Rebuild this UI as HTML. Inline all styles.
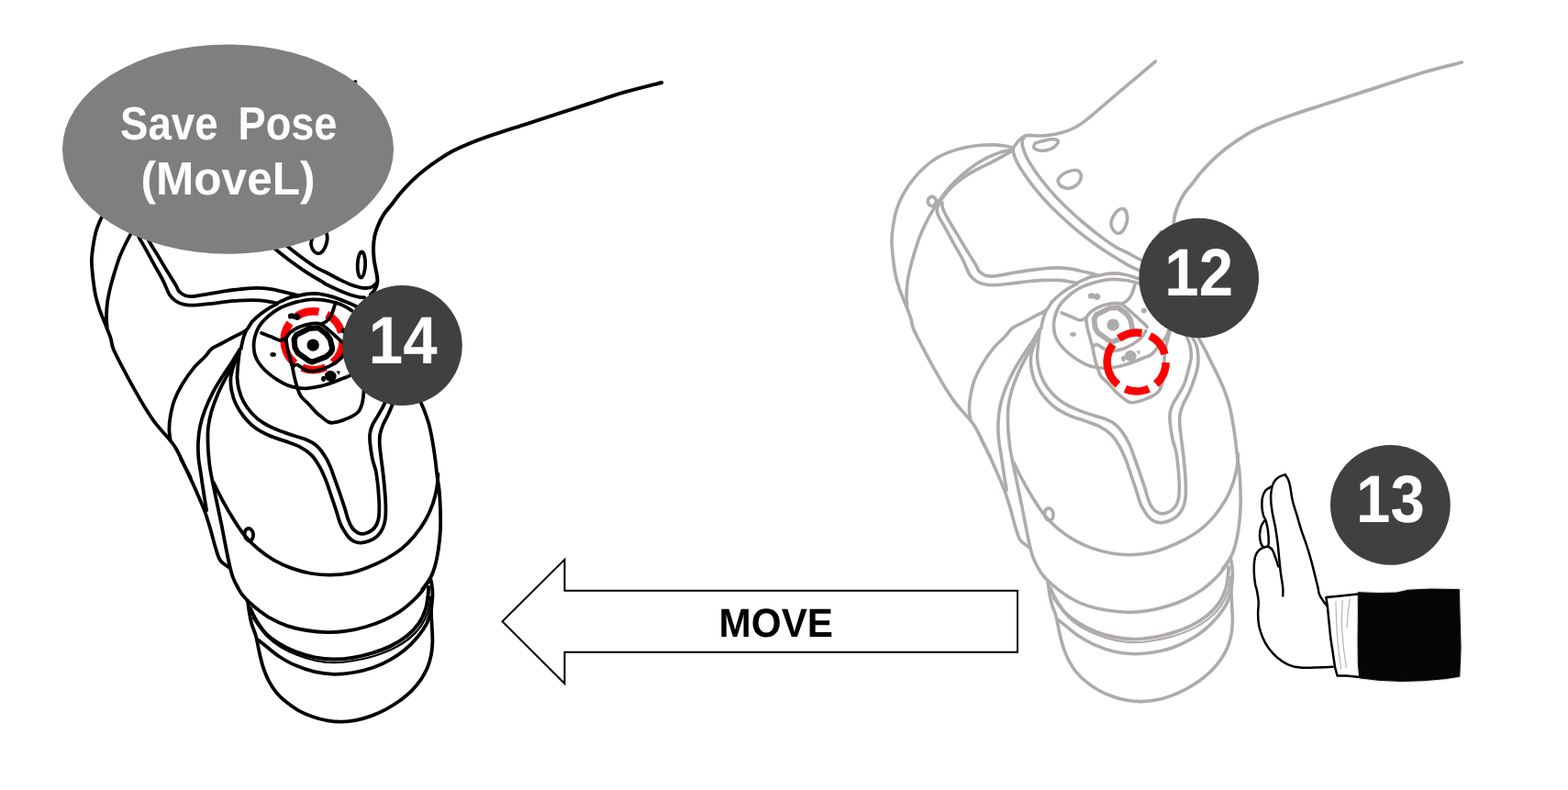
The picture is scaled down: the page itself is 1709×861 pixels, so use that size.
<!DOCTYPE html>
<html lang="en">
<head>
<meta charset="utf-8">
<title>Save Pose (MoveL)</title>
<style>
  html, body { margin: 0; padding: 0; background: #ffffff; }
  body { width: 1709px; height: 861px; overflow: hidden; position: relative; font-family: "Liberation Sans", sans-serif; }
  svg { position: absolute; left: 0; top: 0; display: block; will-change: opacity; }
  .robot path, .robot ellipse, .robot circle { fill: none; stroke-linecap: round; stroke-linejoin: round; }
  .robot path, .robot ellipse, .robot circle { stroke-width: var(--w); }
  .robot .thick { stroke-width: calc(var(--w) * 1.05); }
  .robot .xthick { stroke-width: calc(var(--w) * 1.6); }
  .robot .med { stroke-width: calc(var(--w) * 1.0); }
  .robot .thin { stroke-width: calc(var(--w) * 0.6); }
  .robot .fill { fill: currentColor; stroke: none; }
  text { font-family: "Liberation Sans", sans-serif; font-weight: bold; text-rendering: geometricPrecision; -webkit-font-smoothing: antialiased; }
</style>
</head>
<body>
<svg width="1709" height="861" viewBox="0 0 1709 861">
  <defs>
    <g id="robot" class="robot">
      <!-- ROBOT-BEGIN -->
      <path d="M387.3 89.0C381.3 94.1 362.3 110.1 351.3 119.4C340.3 128.7 328.2 139.1 321.5 144.8C314.7 150.6 314.7 150.8 310.9 153.6C307.1 156.4 303.0 159.3 298.6 161.5C294.3 163.7 289.3 165.5 284.6 166.8C279.9 168.1 274.7 168.9 270.6 169.4C266.5 170.0 263.2 170.0 260.0 170.0C256.8 170.0 253.7 169.4 251.3 169.4C248.8 169.5 247.0 169.6 245.1 170.3C243.2 171.0 241.6 172.2 239.8 173.8C238.1 175.4 235.9 178.2 234.6 180.0C233.3 181.7 232.4 183.6 231.9 184.3"/>
      <path d="M721.2 90.0C714.3 91.8 693.0 97.0 680.0 100.7C667.0 104.5 655.3 108.6 643.3 112.5C631.3 116.3 619.9 120.1 608.2 123.9C596.5 127.7 584.8 131.5 573.1 135.3C561.4 139.1 548.2 143.2 538.0 146.7C527.7 150.2 519.0 153.4 511.7 156.4C504.3 159.3 499.7 161.3 494.1 164.3C488.5 167.2 483.6 170.4 478.3 173.9C473.0 177.4 467.5 181.4 462.5 185.3C457.5 189.3 452.8 193.4 448.5 197.6C444.1 201.9 439.7 206.7 436.2 210.8C432.7 214.9 430.4 218.3 427.4 222.2C424.4 226.0 420.7 229.8 418.1 233.9C415.5 238.0 413.3 242.7 411.7 246.8C410.0 250.9 408.9 254.6 408.1 258.5C407.4 262.4 407.1 266.3 407.0 270.2C406.9 274.1 407.3 278.8 407.6 281.9C407.8 285.0 408.1 286.0 408.6 288.7C409.1 291.4 410.0 295.3 410.5 298.1C410.9 300.9 411.4 303.4 411.4 305.6C411.4 307.8 411.1 309.3 410.5 311.2C409.8 313.1 408.8 315.2 407.7 316.8C406.6 318.4 404.5 320.3 403.9 321.0" class="thick"/>
      <path d="M232.3 182.9C232.4 184.0 232.0 186.7 232.8 189.6C233.6 192.4 235.0 196.0 237.2 200.1C239.4 204.2 242.8 209.4 246.0 214.1C249.2 218.8 252.7 223.5 256.5 228.2C260.3 232.9 264.4 237.5 268.8 242.2C273.2 246.9 277.9 251.6 282.9 256.3C287.8 260.9 293.1 265.6 298.6 270.3C304.2 275.0 310.4 280.0 316.2 284.3C322.1 288.7 327.9 292.8 333.8 296.6C339.6 300.4 347.6 304.9 351.3 307.2C355.0 309.4 353.0 308.7 356.2 310.3C359.3 311.9 365.8 314.9 370.2 316.8C374.6 318.7 378.8 320.3 382.4 321.5C386.0 322.7 389.3 323.4 391.7 323.8C394.2 324.3 396.4 324.2 397.4 324.3" class="med"/>
      <path d="M245.1 170.3C244.6 171.2 242.4 173.2 242.1 175.6C241.8 177.9 242.4 181.1 243.4 184.3C244.3 187.5 245.5 190.7 247.7 194.8C249.9 198.9 253.3 204.2 256.5 208.9C259.7 213.5 263.2 218.2 267.1 222.9C270.9 227.6 275.0 232.3 279.3 237.0C283.7 241.6 288.4 246.3 293.4 251.0C298.4 255.7 303.6 260.4 309.2 265.0C314.7 269.7 320.9 274.7 326.7 279.1C332.6 283.5 339.4 288.4 344.3 291.4C349.2 294.4 351.9 294.9 356.2 297.2C360.5 299.4 365.8 302.5 370.2 304.6C374.6 306.8 378.8 308.9 382.4 310.3C386.0 311.7 388.9 312.4 391.7 313.1C394.6 313.7 396.9 314.1 399.2 314.0C401.6 313.9 404.1 313.4 405.8 312.6C407.5 311.8 408.9 309.9 409.5 309.3" class="med"/>
      <path d="M231.9 182.9C230.2 182.5 224.9 181.3 221.4 180.8C217.9 180.3 215.0 180.0 210.9 179.9C206.8 179.8 201.8 179.8 196.8 180.3C191.9 180.7 186.3 181.4 181.0 182.5C175.8 183.6 170.5 185.0 165.2 186.9C160.0 188.8 154.4 191.0 149.4 193.9C144.5 196.9 139.8 200.5 135.4 204.5C131.0 208.4 126.9 212.8 123.1 217.6C119.3 222.5 115.5 228.2 112.6 233.4C109.7 238.7 107.4 243.7 105.6 249.2C103.7 254.8 102.6 260.9 101.7 266.8C100.8 272.6 100.0 278.2 99.9 284.3C99.9 290.5 100.7 297.6 101.4 303.7C102.1 309.9 102.9 315.7 104.0 321.3C105.2 326.8 106.7 331.8 108.4 337.1C110.2 342.3 112.5 347.6 114.6 352.9C116.6 358.1 119.3 364.2 120.7 368.7C122.2 373.2 121.2 374.6 123.4 380.0C125.5 385.4 130.1 393.8 133.9 401.1C137.7 408.4 142.1 416.6 146.2 423.9C150.3 431.2 154.7 438.8 158.5 445.0C162.3 451.1 165.5 456.1 169.0 460.7C172.5 465.4 176.7 469.8 179.5 473.0C182.3 476.3 183.6 477.4 185.7 480.1C187.7 482.7 189.3 484.4 191.8 488.8C194.3 493.2 198.0 501.1 200.6 506.4C203.2 511.7 208.2 521.5 207.6 520.4C207.0 519.4 197.3 500.5 197.0 500.0C196.7 499.5 202.9 511.4 205.8 517.6C208.7 523.7 211.7 530.1 214.6 536.9C217.5 543.6 220.9 551.2 223.4 557.9C225.8 564.7 227.6 570.8 229.5 577.2C231.4 583.7 233.0 591.0 234.8 596.5C236.5 602.1 237.5 606.9 240.0 610.6C242.5 614.2 248.1 617.2 249.7 618.5"/>
      <path d="M231.1 185.2C228.9 185.7 222.4 186.7 217.9 188.1C213.4 189.6 208.5 191.6 203.9 193.9C199.2 196.3 194.5 199.0 189.8 202.2C185.1 205.4 180.2 209.4 175.8 213.3C171.4 217.1 167.3 221.3 163.5 225.5C159.7 229.8 155.9 234.8 153.0 238.7C150.0 242.7 148.6 244.8 145.9 249.2C143.3 253.6 139.8 259.8 137.2 265.0C134.5 270.3 132.2 275.6 130.1 280.8C128.1 286.1 126.5 291.4 124.9 296.6C123.3 301.9 121.8 307.2 120.5 312.4C119.2 317.7 118.0 323.0 117.2 328.3C116.5 333.6 116.1 339.4 116.0 344.1C115.9 348.8 116.6 354.3 116.7 356.4"/>
      <path d="M230.2 186.9C227.6 188.4 219.9 192.9 214.4 195.9C208.8 198.8 202.4 201.7 196.8 204.7C191.3 207.6 186.0 210.2 181.0 213.4C176.1 216.7 171.1 220.4 167.0 224.1C162.9 227.9 158.9 232.8 156.5 235.9C154.0 239.0 153.2 240.3 152.1 242.6C150.9 244.8 149.7 247.0 149.4 249.2C149.1 251.5 148.9 252.7 150.3 256.3C151.8 259.8 155.1 264.7 158.2 270.3C161.3 275.9 165.4 283.6 168.7 289.6C172.1 295.6 175.4 301.0 178.0 306.3C180.7 311.6 182.5 317.6 184.8 321.3C187.1 324.9 189.2 326.5 191.8 328.3C194.4 330.1 197.1 331.1 200.6 331.8C204.1 332.5 207.9 332.8 212.9 332.7C217.9 332.5 224.6 331.6 230.4 330.9C236.3 330.3 242.1 329.2 248.0 328.7C253.8 328.1 259.7 327.6 265.5 327.4C271.4 327.2 278.1 327.1 283.1 327.4C288.1 327.7 292.2 328.6 295.4 329.2C298.6 329.8 301.2 330.6 302.4 330.9" class="med"/>
      <path d="M154.7 242.2C154.9 243.4 154.4 246.0 155.6 249.2C156.8 252.5 158.9 256.6 161.7 261.5C164.5 266.5 168.7 273.2 172.3 279.1C175.8 284.9 179.6 291.4 182.8 296.6C186.0 301.9 189.5 307.2 191.6 310.7C193.7 314.2 193.5 315.9 195.3 317.8C197.1 319.7 199.7 321.3 202.3 322.2C205.0 323.0 207.0 323.3 211.1 323.0C215.2 322.7 221.4 321.3 226.9 320.4C232.5 319.5 238.6 318.3 244.5 317.4C250.3 316.5 256.2 315.7 262.0 315.1C267.9 314.6 274.0 313.9 279.6 313.9C285.1 313.9 290.1 314.3 295.4 315.1C300.6 315.9 306.2 317.5 311.2 318.6C316.2 319.8 322.9 321.6 325.2 322.2" class="med"/>
      <path d="M325.1 322.5C323.9 322.6 320.5 322.9 318.1 323.6C315.6 324.2 313.2 325.3 310.5 326.4C307.8 327.5 303.4 329.7 302.0 330.4" class="med"/>
      <path d="M143.8 236.1C145.1 236.1 147.0 237.7 147.7 238.7C148.4 239.7 148.6 241.0 148.2 242.2C147.8 243.4 146.2 245.5 145.1 246.1C143.9 246.7 142.5 246.4 141.5 245.7C140.6 245.1 139.5 243.4 139.3 242.2C139.1 241.0 139.6 239.4 140.3 238.4C141.1 237.3 142.6 236.0 143.8 236.1Z"/>
      <path d=""/>
      <path d="M254.8 181.7C254.9 180.7 255.1 179.1 256.5 178.1C258.0 177.2 260.6 176.6 263.5 175.9C266.5 175.1 271.3 174.0 274.1 173.8C276.9 173.6 279.0 174.0 280.2 174.6C281.4 175.2 281.7 175.9 281.1 177.3C280.5 178.6 278.8 181.1 276.7 182.5C274.7 183.9 271.4 185.1 268.8 185.7C266.2 186.3 263.1 186.3 260.9 186.0C258.7 185.8 256.7 184.7 255.6 183.9C254.6 183.2 254.6 182.6 254.8 181.7Z"/>
      <path d="M281.1 218.5C281.5 217.1 282.7 214.9 284.6 213.3C286.5 211.6 289.7 209.8 292.5 208.9C295.3 207.9 299.0 207.2 301.3 207.6C303.5 208.1 305.3 209.8 306.0 211.5C306.8 213.2 306.5 215.6 305.7 217.6C304.9 219.7 303.3 222.2 301.3 223.8C299.2 225.4 296.0 227.0 293.4 227.3C290.8 227.6 287.4 226.4 285.5 225.5C283.6 224.7 282.7 223.2 282.0 222.0C281.2 220.9 280.7 220.0 281.1 218.5Z"/>
      <path d="M339.0 265.0C339.2 262.7 340.3 259.5 341.7 257.1C343.0 254.8 345.2 252.3 346.9 251.0C348.7 249.7 350.7 249.2 352.2 249.6C353.7 250.0 355.0 251.6 355.7 253.6C356.4 255.6 356.9 258.7 356.6 261.5C356.3 264.3 355.1 268.0 353.9 270.3C352.8 272.6 351.2 274.7 349.6 275.6C347.9 276.4 345.8 276.3 344.3 275.6C342.8 274.8 341.3 272.9 340.4 271.2C339.6 269.4 338.8 267.4 339.0 265.0Z"/>
      <path d="M325.1 322.4C326.6 322.1 331.0 320.9 333.9 320.5C336.8 320.1 339.7 319.9 342.7 319.9C345.6 320.0 348.5 320.3 351.4 320.8C354.4 321.3 357.3 322.0 360.2 322.9C363.1 323.7 366.1 324.7 369.0 325.8C371.9 326.9 374.6 327.9 377.8 329.3C381.0 330.7 384.9 332.0 388.3 334.0C391.7 335.9 394.7 338.0 398.0 341.0C401.3 344.0 406.3 350.2 408.0 352.0" class="med"/>
      <path d="M383.6 338.7C382.2 337.8 377.8 334.9 374.8 333.4C371.9 331.9 369.0 330.8 366.1 329.9C363.1 329.0 360.2 328.4 357.3 327.8C354.4 327.3 351.4 326.9 348.5 326.7C345.6 326.4 342.7 326.2 339.7 326.4C336.8 326.5 333.9 327.0 331.0 327.5C328.1 328.0 325.1 328.6 322.2 329.4C319.3 330.2 316.3 331.1 313.4 332.2C310.5 333.3 307.7 334.3 304.6 336.0C301.5 337.7 298.2 339.9 295.0 342.5C291.8 345.1 288.0 348.5 285.5 351.5C283.0 354.5 281.4 357.1 280.0 360.5C278.6 363.9 277.3 368.2 276.8 372.0C276.3 375.8 276.5 379.7 277.0 383.0C277.5 386.3 278.7 389.3 280.0 392.0C281.3 394.7 283.0 397.0 285.0 399.4C287.0 401.8 289.1 404.0 292.0 406.4C294.9 408.9 299.0 411.9 302.6 414.2C306.1 416.4 309.6 418.4 313.1 419.8C316.6 421.2 320.1 422.0 323.6 422.6C327.1 423.2 330.1 423.5 334.2 423.3C338.2 423.0 343.5 422.2 348.2 421.2C352.9 420.1 358.1 418.4 362.2 417.0C366.3 415.6 369.4 414.2 372.8 412.7C376.2 411.3 379.5 410.9 382.6 408.5C385.7 406.2 388.6 401.8 391.2 398.8C393.8 395.8 396.5 393.3 398.2 390.6C400.0 387.9 401.1 383.8 401.7 382.4" class="med"/>
      <path d="M365.5 330.5C365.1 331.7 364.0 335.6 363.1 338.1C362.3 340.5 361.4 343.2 360.2 345.1C359.0 347.1 357.6 348.5 356.1 349.8C354.7 351.1 352.2 352.2 351.4 352.7" class="med"/>
      <path d="M285.0 362.9C286.8 363.6 292.1 365.8 295.5 367.1C298.9 368.5 302.7 370.8 305.4 371.0C308.1 371.2 310.6 368.7 311.7 368.2" class="med"/>
      <path d="M311.7 368.5C312.5 367.5 314.5 364.1 316.6 362.2C318.7 360.3 321.4 358.7 324.3 357.3C327.2 355.9 330.6 354.6 334.2 353.8C337.7 353.0 342.6 352.4 345.4 352.4C348.2 352.4 348.8 352.5 351.0 353.8C353.2 355.1 356.3 358.0 358.7 360.1C361.2 362.2 363.3 364.2 365.7 366.4C368.2 368.7 371.4 371.5 373.5 373.4C375.6 375.4 377.6 377.5 378.4 378.4" class="med"/>
      <path d="M319.4 399.4C320.0 399.1 322.0 397.4 323.3 397.4C324.6 397.4 325.6 398.5 327.1 399.4C328.7 400.3 330.6 402.0 332.7 402.9C334.9 403.8 337.2 404.6 339.8 404.7C342.3 404.7 345.6 403.9 348.2 403.3C350.8 402.6 352.9 401.8 355.2 400.8C357.6 399.8 359.9 398.7 362.2 397.3C364.6 395.9 367.4 393.9 369.3 392.4C371.1 390.9 372.2 389.8 373.5 388.2C374.8 386.5 376.4 383.5 377.0 382.6" class="med"/>
      <path d="M320.6 369.6L322.9 365.0L337.0 358.0L346.8 357.2L355.2 363.6L359.8 369.6L361.9 378.4L362.0 381.2L360.1 384.7L355.2 388.9L340.5 394.5L337.0 393.4L324.7 384.7L321.5 379.0Z" class="xthick"/>
      <path d="M311.7 368.5C311.9 370.3 312.4 375.5 313.1 379.0C313.8 382.6 315.0 386.1 315.9 389.6C316.8 393.1 317.9 396.6 318.7 400.1C319.5 403.6 320.0 407.3 320.8 410.6C321.6 414.0 322.3 416.9 323.5 420.4C324.6 423.9 325.8 428.6 327.9 431.8C329.9 435.0 333.0 436.8 335.8 439.7C338.5 442.6 342.1 446.9 344.5 449.3C347.0 451.8 348.4 452.8 350.6 454.6C352.8 456.3 355.6 458.8 357.6 459.8C359.7 460.9 360.2 461.0 362.9 460.7C365.5 460.4 369.9 459.3 373.4 458.1C376.9 456.9 381.0 455.3 383.9 453.7C386.9 452.1 389.2 450.6 391.0 448.4C392.7 446.2 393.6 443.6 394.5 440.5C395.4 437.5 395.8 434.2 396.2 430.0C396.7 425.8 396.9 418.8 397.0 415.2C397.2 411.6 397.0 410.9 397.3 408.2C397.6 405.4 398.2 401.7 398.8 398.8C399.4 395.9 400.5 393.2 401.1 390.6C401.8 388.1 402.6 384.8 402.9 383.6" class="med"/>
      <path d="M314.5 342.6C315.1 341.9 316.8 341.3 318.0 341.3C319.2 341.3 320.5 342.5 321.5 342.6C322.6 342.6 323.4 341.3 324.3 341.5C325.3 341.7 326.7 343.1 327.1 344.0C327.6 344.8 327.6 345.9 327.1 346.8C326.7 347.6 325.3 348.8 324.3 349.0C323.4 349.2 322.4 348.5 321.5 348.2C320.6 347.9 319.8 347.4 318.7 347.3C317.7 347.2 316.0 347.8 315.2 347.5C314.4 347.1 314.3 346.2 314.1 345.4C314.0 344.5 313.8 343.2 314.5 342.6Z" class="fill"/>
      <path d="M350.0 412.7C350.0 411.8 350.7 410.3 351.4 409.9C352.1 409.5 353.6 409.7 354.2 410.3C354.7 410.9 355.0 412.5 354.9 413.4C354.7 414.4 354.1 415.6 353.5 415.9C352.8 416.3 351.6 416.1 351.0 415.6C350.4 415.0 349.9 413.7 350.0 412.7Z" class="fill"/>
      <path d="M354.5 407.1C355.2 406.1 356.7 404.8 358.0 404.3C359.3 403.9 361.0 403.9 362.2 404.3C363.5 404.8 365.0 406.0 365.7 407.1C366.5 408.3 366.7 410.1 366.5 411.3C366.2 412.6 365.4 414.1 364.3 414.9C363.3 415.6 361.5 416.0 360.1 415.9C358.7 415.8 356.9 415.0 355.9 414.2C354.9 413.3 354.4 411.8 354.2 410.6C353.9 409.5 353.9 408.2 354.5 407.1Z" class="fill"/>
      <path d="M366.5 404.3L371.0 404.7L369.3 408.7Z" class="fill"/>
      <path d="M268.3 359.9C267.9 361.2 266.3 364.9 265.5 367.4C264.8 369.9 264.1 372.8 263.7 374.9C263.2 377.0 262.9 379.1 262.7 380.0"/>
      <path d="M302.0 331.4C300.6 332.1 296.6 333.8 293.6 335.6C290.7 337.4 287.4 339.6 284.3 342.1C281.1 344.6 277.6 347.6 274.9 350.6C272.2 353.5 271.5 357.3 268.3 359.9C265.2 362.6 260.5 364.1 256.2 366.5C251.8 368.8 246.3 371.7 242.1 374.0C237.9 376.2 234.0 377.5 230.9 380.0C227.8 382.4 226.7 385.3 223.4 388.8C220.1 392.3 215.2 396.1 211.1 401.1C207.0 406.0 202.3 412.8 198.8 418.6C195.3 424.5 192.3 430.3 190.1 436.2C187.9 442.0 186.6 448.5 185.7 453.7C184.7 459.0 184.4 463.4 184.4 467.8C184.4 472.2 185.5 478.0 185.7 480.1"/>
      <path d="M261.2 380.9C259.8 383.1 256.3 389.2 253.3 394.0C250.2 398.9 246.2 404.3 242.7 409.8C239.2 415.4 235.4 421.3 232.2 427.4C229.0 433.5 225.8 440.6 223.4 446.7C221.1 452.8 219.4 458.4 218.1 464.3C216.9 470.1 216.3 476.0 216.0 481.8C215.7 487.7 215.9 493.5 216.4 499.4C216.9 505.2 218.0 510.1 219.0 516.9C220.0 523.8 221.5 533.8 222.5 540.4C223.5 546.9 224.7 553.5 225.1 556.2"/>
      <path d="M261.2 381.8C260.1 384.1 257.5 390.8 255.0 395.8C252.5 400.8 249.2 406.0 246.2 411.6C243.3 417.2 240.1 423.0 237.5 429.2C234.8 435.3 232.2 442.3 230.4 448.5C228.7 454.6 227.6 460.2 226.9 466.0C226.3 471.9 226.4 477.7 226.6 483.6C226.7 489.4 227.3 496.0 227.8 501.1C228.3 506.2 228.6 509.0 229.5 514.0C230.4 519.1 231.7 525.2 233.0 531.6C234.3 538.0 235.9 545.6 237.4 552.7C238.9 559.7 240.3 566.4 241.8 573.7C243.2 581.0 244.7 589.2 246.2 596.5C247.6 603.9 249.2 612.1 250.6 617.6C251.9 623.2 252.5 625.8 254.1 629.9C255.7 634.0 258.6 639.1 260.2 642.2C261.9 645.2 262.4 646.1 264.1 648.2C265.7 650.3 269.0 653.8 270.0 654.9"/>
      <path d="M261.2 381.8C260.1 384.4 256.6 392.6 255.0 397.6C253.4 402.5 251.9 406.9 251.5 411.6C251.1 416.3 251.5 421.0 252.4 425.6C253.3 430.3 254.6 435.0 256.8 439.7C259.0 444.4 262.0 449.3 265.5 453.7C269.1 458.1 273.1 462.5 277.8 466.0C282.5 469.5 288.1 472.3 293.6 474.8C299.2 477.3 305.6 478.9 311.2 480.9C316.7 483.0 322.3 484.6 327.0 487.1C331.7 489.6 335.8 492.3 339.3 495.9C342.8 499.4 345.4 503.6 348.0 508.1C350.7 512.7 352.8 517.6 355.0 523.0C357.2 528.4 359.2 535.0 361.1 540.6C363.0 546.1 364.8 551.4 366.4 556.4C368.0 561.4 369.5 567.0 370.8 570.4C372.1 573.9 372.9 574.8 374.3 577.2C375.8 579.7 377.5 582.9 379.6 585.1C381.6 587.3 384.3 589.3 386.6 590.4C388.9 591.5 391.0 591.8 393.6 591.6C396.3 591.5 399.5 590.8 402.4 589.5C405.3 588.3 408.7 586.6 411.2 584.3C413.7 581.9 415.9 578.7 417.3 575.5C418.8 572.3 419.5 569.3 420.0 565.0C420.5 560.6 420.5 554.7 420.3 549.2C420.2 543.6 419.6 537.4 419.1 531.6C418.6 525.7 417.9 519.3 417.3 514.0C416.7 508.8 416.1 505.2 415.5 500.2C415.0 495.3 414.0 488.8 413.8 484.4C413.6 480.0 413.6 477.4 414.1 473.9C414.7 470.4 415.9 466.9 417.3 463.4C418.7 459.8 420.8 456.6 422.6 452.8C424.3 449.0 426.0 445.6 427.8 440.5C429.6 435.4 432.3 427.2 433.3 422.2C434.3 417.2 434.1 414.4 433.9 410.5C433.7 406.6 433.2 402.3 432.2 398.8C431.1 395.3 428.8 392.0 427.5 389.4C426.1 386.9 424.5 384.6 424.0 383.6"/>
      <path d="M261.2 381.8C260.9 384.4 259.8 392.6 259.4 397.6C259.0 402.5 258.4 407.2 258.5 411.6C258.7 416.0 259.1 419.5 260.3 423.9C261.4 428.3 263.2 433.5 265.5 437.9C267.9 442.3 270.8 446.4 274.3 450.2C277.8 454.0 281.9 457.7 286.6 460.7C291.3 463.8 296.8 466.3 302.4 468.6C308.0 471.0 314.7 473.0 320.0 474.8C325.2 476.5 329.9 477.4 334.0 479.2C338.1 480.9 341.3 482.5 344.5 485.3C347.8 488.1 350.8 492.2 353.3 495.9C355.8 499.5 357.5 503.0 359.4 507.2C361.3 511.5 362.7 516.0 364.6 521.3C366.5 526.5 368.9 533.3 370.8 538.8C372.7 544.4 374.6 550.0 376.0 554.6C377.5 559.3 378.3 563.2 379.6 566.7C380.9 570.2 382.2 573.1 384.0 575.5C385.7 577.8 387.9 579.7 390.1 580.7C392.3 581.8 394.7 582.1 397.1 581.6C399.6 581.2 402.8 579.7 405.0 578.1C407.2 576.5 409.0 574.5 410.3 572.0C411.6 569.5 412.4 567.0 412.9 563.2C413.4 559.4 413.4 554.4 413.3 549.2C413.1 543.9 412.6 537.4 412.1 531.6C411.5 525.7 410.8 519.3 409.8 514.0C408.7 508.8 407.0 505.4 405.9 500.2C404.8 495.0 403.7 487.3 403.3 482.7C402.8 478.0 402.8 475.3 403.3 472.1C403.7 468.9 404.4 466.6 405.9 463.4C407.3 460.1 409.8 456.8 412.0 452.8C414.2 448.9 417.1 444.8 419.1 439.7C421.0 434.6 422.8 427.1 424.0 422.2C425.2 417.4 426.1 414.4 426.3 410.5C426.5 406.6 425.9 402.3 425.1 398.8C424.4 395.3 422.7 392.0 421.6 389.4C420.5 386.9 419.2 384.6 418.7 383.6"/>
      <path d="M431.0 383.6C431.6 384.8 432.9 387.7 434.5 390.6C436.1 393.5 438.2 397.1 440.3 401.2C442.5 405.2 445.0 410.5 447.4 415.2C449.7 419.9 452.2 424.8 454.4 429.2C456.5 433.7 458.7 438.5 460.2 442.1C461.8 445.7 462.5 447.2 463.8 451.1C465.1 454.9 466.9 459.8 468.2 465.1C469.5 470.4 470.7 476.8 471.7 482.7C472.7 488.5 473.6 494.7 474.3 500.2C475.1 505.8 475.4 510.2 476.1 516.0C476.8 521.8 478.1 528.4 478.8 535.1C479.4 541.8 479.8 549.2 480.0 556.2C480.2 563.2 480.3 570.2 480.0 577.2C479.6 584.3 478.8 591.9 477.9 598.3C477.0 604.7 475.8 610.6 474.4 615.9C472.9 621.1 471.5 625.5 469.1 629.9C466.8 634.3 461.8 640.1 460.3 642.2"/>
      <path d="M233.0 526.3C234.6 529.5 239.0 538.9 242.7 545.6C246.3 552.4 250.9 560.3 255.0 566.7C259.0 573.1 262.8 579.0 267.2 584.3C271.6 589.5 276.0 593.9 281.3 598.3C286.5 602.7 292.7 607.1 298.8 610.6C305.0 614.1 311.4 617.0 318.1 619.4C324.9 621.8 332.2 623.8 339.2 625.0C346.2 626.2 353.3 626.8 360.3 626.7C367.3 626.7 374.6 626.0 381.3 624.6C388.1 623.3 394.2 621.0 400.6 618.5C407.1 616.0 413.8 613.1 420.0 609.7C426.1 606.3 432.2 602.5 437.5 598.3C442.8 594.1 447.2 589.5 451.6 584.3C455.9 579.0 460.5 572.6 463.8 566.7C467.2 560.9 469.7 555.0 471.7 549.2C473.8 543.3 475.2 537.0 476.1 531.6C477.1 526.2 477.2 519.2 477.4 516.7"/>
      <path d="M271.1 575.8C272.4 575.9 274.3 577.6 275.1 579.0C276.0 580.4 276.2 582.7 276.0 584.3C275.8 585.9 274.9 587.9 273.9 588.6C272.9 589.4 271.0 589.4 269.9 588.6C268.7 587.9 267.3 585.9 266.9 584.3C266.4 582.6 266.5 580.0 267.2 578.6C267.9 577.2 269.8 575.8 271.1 575.8Z"/>
      <path d="M270.0 654.9C271.9 656.5 277.2 661.4 281.4 664.6C285.7 667.8 290.2 671.3 295.5 674.2C300.7 677.2 306.6 680.0 313.0 682.1C319.5 684.3 326.8 685.9 334.1 687.0C341.4 688.2 349.6 689.0 356.9 689.2C364.2 689.3 371.0 688.8 378.0 687.7C385.0 686.7 392.3 685.0 399.1 683.0C405.8 681.0 412.2 678.8 418.4 676.0C424.5 673.2 430.6 669.8 435.9 666.3C441.2 662.8 445.9 658.7 450.0 654.9C454.1 651.1 457.3 647.7 460.5 643.5C463.7 639.3 467.7 632.2 469.1 629.9"/>
      <path d="M270.0 654.9C270.3 657.1 271.1 663.8 271.8 668.1C272.5 672.3 273.2 676.3 274.4 680.4C275.6 684.5 277.6 688.6 278.8 692.7C280.0 696.8 280.6 700.9 281.4 705.0C282.3 709.0 283.0 713.1 284.1 717.2C285.1 721.3 286.1 725.4 287.6 729.5C289.0 733.6 290.7 737.7 292.8 741.8C295.0 745.9 297.7 750.3 300.7 754.1C303.8 757.9 307.2 761.3 311.3 764.6C315.4 768.0 320.4 771.5 325.3 774.3C330.3 777.1 335.9 779.5 341.1 781.3C346.4 783.2 351.7 784.5 356.9 785.3C362.2 786.2 367.5 786.7 372.7 786.6C378.0 786.5 383.3 785.8 388.5 784.8C393.8 783.8 399.1 782.3 404.3 780.4C409.6 778.5 414.9 776.2 420.1 773.4C425.3 770.6 430.7 767.3 435.6 763.8C440.4 760.2 445.2 756.3 449.1 752.3C453.0 748.4 456.3 744.2 459.1 740.1C461.9 736.0 463.9 732.2 465.8 727.8C467.6 723.4 469.0 718.4 470.0 713.7C470.9 709.0 471.2 704.7 471.4 699.7C471.5 694.7 471.1 689.4 470.8 683.9C470.6 678.3 469.9 671.9 470.0 666.3C470.1 660.8 471.2 654.9 471.4 650.5C471.6 646.1 471.4 643.4 471.0 640.0C470.6 636.6 469.4 631.6 469.1 629.9"/>
      <path d="M272.7 662.8C273.8 665.2 276.8 672.2 279.7 676.9C282.6 681.5 286.1 686.8 290.2 690.9C294.3 695.0 299.0 698.2 304.3 701.4C309.5 704.7 315.4 707.7 321.8 710.2C328.3 712.7 335.9 715.0 342.9 716.4C349.9 717.8 356.9 718.6 363.9 718.6C371.0 718.7 378.0 717.9 385.0 716.7C392.0 715.5 399.3 713.7 406.1 711.6C412.9 709.5 419.5 707.2 425.7 704.1C432.0 701.0 438.5 697.1 443.6 693.0C448.7 688.9 452.9 684.6 456.3 679.7C459.7 674.8 462.3 668.7 464.0 663.5C465.7 658.4 465.9 652.7 466.5 648.8C467.0 644.9 467.0 641.5 467.2 640.0" class="thick"/>
      <path d="M275.8 673.4C276.8 674.8 279.1 678.6 281.8 682.1C284.5 685.6 287.9 690.6 292.0 694.4C296.0 698.3 300.7 702.1 306.0 705.3C311.3 708.5 317.3 711.3 323.6 713.7C329.9 716.2 337.0 718.5 343.8 719.9C350.5 721.3 356.9 722.1 363.9 722.2C371.0 722.2 378.6 721.2 385.9 720.0C393.2 718.8 400.8 717.1 407.8 715.0C414.9 712.8 421.8 710.3 428.2 707.1C434.6 703.8 441.3 699.7 446.4 695.5C451.6 691.3 455.7 686.8 459.1 681.8C462.5 676.8 465.1 670.8 466.8 665.6C468.5 660.4 468.9 653.0 469.3 650.5" class="thin"/>
      <path d="M281.4 697.6C283.0 698.9 287.3 702.3 291.1 705.3C294.9 708.3 299.1 712.2 304.3 715.5C309.4 718.8 315.4 722.4 321.8 725.1C328.3 727.9 335.9 730.6 342.9 732.2C349.9 733.8 356.9 734.6 363.9 734.8C371.0 734.9 378.0 734.2 385.0 733.0C392.0 731.9 399.5 730.1 406.1 727.8C412.7 725.5 418.9 722.6 424.7 719.3C430.5 716.1 435.8 712.6 440.8 708.5C445.9 704.3 450.9 699.1 454.9 694.4C458.9 689.7 462.2 685.1 464.7 680.4C467.2 675.7 468.8 668.7 469.6 666.3"/>
      <!-- ROBOT-END -->
      <ellipse cx="393.9" cy="288.5" rx="4.2" ry="14" transform="rotate(2 393.9 288.5)"/>
      <circle class="fill" cx="341.2" cy="376.1" r="6.7"/>
      <ellipse class="fill" cx="297.6" cy="386.4" rx="3.3" ry="2.4"/>
      <circle class="fill" cx="374.8" cy="360.6" r="3"/>
    </g>
  </defs>

  <!-- right (ghost) robot, with its highlight ring drawn on top -->
  <use href="#robot" transform="translate(872,-22)" stroke="#afabab" color="#afabab" style="--w:3.6px"/>
  <circle cx="1238.7" cy="394.5" r="32" fill="none" stroke="#ff0000" stroke-width="8.5" stroke-dasharray="26.5 9.2" transform="rotate(169 1238.7 394.5)"/>
  <!-- left highlight ring (under the robot line-art) -->
  <circle cx="341.6" cy="371.2" r="32" fill="none" stroke="#ff0000" stroke-width="8.5" stroke-dasharray="26.5 9.2" transform="rotate(169 341.6 371.2)"/>
  <!-- left robot -->
  <use href="#robot" stroke="#000000" color="#000000" style="--w:3.8px"/>

  <!-- speech bubble -->
  <ellipse cx="248.5" cy="162.6" rx="180.5" ry="114.2" fill="#7f7f7f"/>
  <text y="151.9" font-size="51" fill="#ffffff"><tspan x="131" textLength="106.5" lengthAdjust="spacingAndGlyphs">Save</tspan> <tspan x="259.5" textLength="108" lengthAdjust="spacingAndGlyphs">Pose</tspan></text>
  <text x="153.5" y="212" font-size="51" fill="#ffffff" textLength="190" lengthAdjust="spacingAndGlyphs">(MoveL)</text>

  <!-- step badges -->
  <circle cx="438.4" cy="376.5" r="65.4" fill="#404040"/>
  <text transform="translate(439.2,395.6) scale(0.92,1)" font-size="73" fill="#ffffff" text-anchor="middle">14</text>
  <circle cx="1306.7" cy="303" r="65.3" fill="#404040"/>
  <text transform="translate(1306.7,322.3) scale(0.92,1)" font-size="73" fill="#ffffff" text-anchor="middle">12</text>
  <circle cx="1515.4" cy="550.4" r="65.4" fill="#404040"/>
  <text transform="translate(1515.4,569.3) scale(0.92,1)" font-size="73" fill="#ffffff" text-anchor="middle">13</text>

  <!-- move arrow -->
  <path d="M547.5 677.3 L615.4 609.9 L615.4 643.8 L1109 643.8 L1109 710.8 L615.4 710.8 L615.4 745 Z" fill="#ffffff" stroke="#000000" stroke-width="2" stroke-linejoin="miter"/>
  <text transform="translate(845.8,693.9) scale(0.963,1)" font-size="43.9" fill="#000000" text-anchor="middle">MOVE</text>

  <!-- hand -->
  <g id="hand" fill="none" stroke="#000000" stroke-width="2.5" stroke-linecap="round" stroke-linejoin="round">
    <!-- HAND-BEGIN -->
    <path d="M1480.7 645.8L1502.5 646.5L1522.0 646.1L1535.0 643.2L1559.4 642.1L1590.3 642.6L1591.1 673.8L1592.0 706.3L1590.7 737.2L1575.7 739.6L1551.3 741.7L1526.9 742.4L1502.5 741.3L1481.7 738.8L1480.4 722.6L1480.1 698.2L1480.4 673.8Z" fill="none" stroke="#e2e2e2" stroke-width="3.5"/>
    <path d="M1480.7 645.8L1502.5 646.5L1522.0 646.1L1535.0 643.2L1559.4 642.1L1590.3 642.6L1591.1 673.8L1592.0 706.3L1590.7 737.2L1575.7 739.6L1551.3 741.7L1526.9 742.4L1502.5 741.3L1481.7 738.8L1480.4 722.6L1480.1 698.2L1480.4 673.8Z" fill="#050505" stroke="#050505" stroke-width="1"/>
    <path d="M1400.7 517.3C1401.2 518.2 1403.2 520.5 1404.1 522.8C1405.1 525.1 1405.6 527.3 1406.3 531.1C1407.1 535.0 1407.6 540.6 1408.8 545.8C1410.0 550.9 1412.0 556.6 1413.7 562.0C1415.3 567.5 1416.8 572.9 1418.5 578.3C1420.3 583.7 1422.5 589.1 1424.2 594.6C1426.0 600.0 1427.6 605.4 1429.1 610.8C1430.6 616.2 1432.0 622.2 1433.2 627.1C1434.4 632.0 1435.6 636.6 1436.4 640.1C1437.2 643.6 1437.0 645.2 1438.0 647.9C1439.1 650.5 1441.6 654.0 1442.9 656.0C1444.3 658.0 1445.6 659.4 1446.2 660.1"/>
    <path d="M1400.7 517.3C1399.6 517.7 1396.2 518.4 1394.1 519.8C1392.1 521.1 1389.9 523.0 1388.5 525.4C1387.0 527.9 1386.2 531.0 1385.7 534.4C1385.1 537.8 1385.0 541.7 1385.2 545.8C1385.4 549.8 1386.0 553.9 1386.8 558.8C1387.6 563.7 1389.1 569.6 1390.1 575.0C1391.0 580.5 1391.8 585.9 1392.5 591.3C1393.2 596.7 1393.6 602.1 1394.1 607.6C1394.7 613.0 1395.1 618.4 1395.8 623.8C1396.4 629.2 1397.8 635.8 1398.2 640.1C1398.6 644.4 1398.2 647.9 1398.2 649.5"/>
    <path d="M1385.7 530.3C1384.7 531.0 1381.1 532.4 1379.5 534.4C1377.9 536.4 1376.6 539.5 1375.9 542.5C1375.3 545.5 1375.3 549.0 1375.4 552.3C1375.6 555.5 1376.4 559.6 1377.1 562.0C1377.8 564.5 1378.7 564.2 1379.5 566.9C1380.3 569.6 1381.4 574.2 1382.0 578.3C1382.5 582.4 1382.8 588.5 1382.8 591.3C1382.8 594.1 1382.1 594.7 1382.0 595.4"/>
    <path d="M1378.7 566.9C1378.0 568.0 1375.6 570.7 1374.6 573.4C1373.7 576.1 1373.1 580.1 1373.0 583.2C1373.0 586.3 1373.6 589.9 1374.3 592.1C1375.0 594.3 1376.6 595.5 1377.1 596.2"/>
    <path d="M1382.0 595.4C1382.8 596.0 1385.5 597.4 1386.8 599.4C1388.2 601.5 1389.0 604.6 1390.1 607.6C1391.2 610.5 1392.8 615.7 1393.3 617.3"/>
    <path d="M1382.0 595.4C1380.7 595.8 1376.7 596.6 1374.6 597.8C1372.6 599.0 1371.0 600.5 1369.8 602.7C1368.5 604.9 1367.8 607.3 1367.3 610.8C1366.8 614.3 1366.7 619.5 1366.8 623.8C1367.0 628.2 1367.6 633.6 1368.1 636.8C1368.6 640.0 1369.2 639.8 1369.8 643.0C1370.4 646.2 1371.5 651.7 1371.7 656.0C1371.9 660.4 1371.0 664.7 1371.1 669.0C1371.1 673.4 1371.3 677.7 1372.2 682.0C1373.1 686.4 1374.5 691.0 1376.3 695.0C1378.0 699.1 1380.1 702.8 1382.8 706.4C1385.5 710.1 1389.0 714.0 1392.5 717.0C1396.0 720.0 1399.8 722.5 1403.9 724.3C1408.0 726.1 1412.0 727.0 1416.9 727.6C1421.8 728.1 1427.2 727.7 1433.2 727.6C1439.1 727.4 1449.4 726.9 1452.7 726.7"/>
    <path d="M1480.0 647.6L1460.8 649.5L1445.4 651.1L1447.0 662.5L1448.6 678.8L1450.2 695.0L1452.7 711.3L1455.1 727.6L1457.6 736.5L1467.3 736.5L1480.0 737.8"/>
    <path d="M1455.9 656.0C1456.1 659.8 1456.3 670.9 1456.7 678.8C1457.2 686.6 1457.6 694.8 1458.4 703.2C1459.2 711.6 1461.1 724.9 1461.6 729.2" stroke="#b5b5b5" stroke-width="1.2"/>
    <path d="M1463.3 654.4C1463.1 658.5 1462.3 670.7 1462.4 678.8C1462.6 686.9 1463.3 695.0 1464.1 703.2C1464.9 711.3 1466.8 723.5 1467.3 727.6" stroke="#b5b5b5" stroke-width="1.2"/>
    <path d="M1471.4 652.8C1471.0 655.7 1469.5 665.5 1468.9 670.7C1468.4 675.8 1468.3 681.5 1468.1 683.7" stroke="#b5b5b5" stroke-width="1.2"/>
    <!-- HAND-END -->
  </g>
</svg>
</body>
</html>
